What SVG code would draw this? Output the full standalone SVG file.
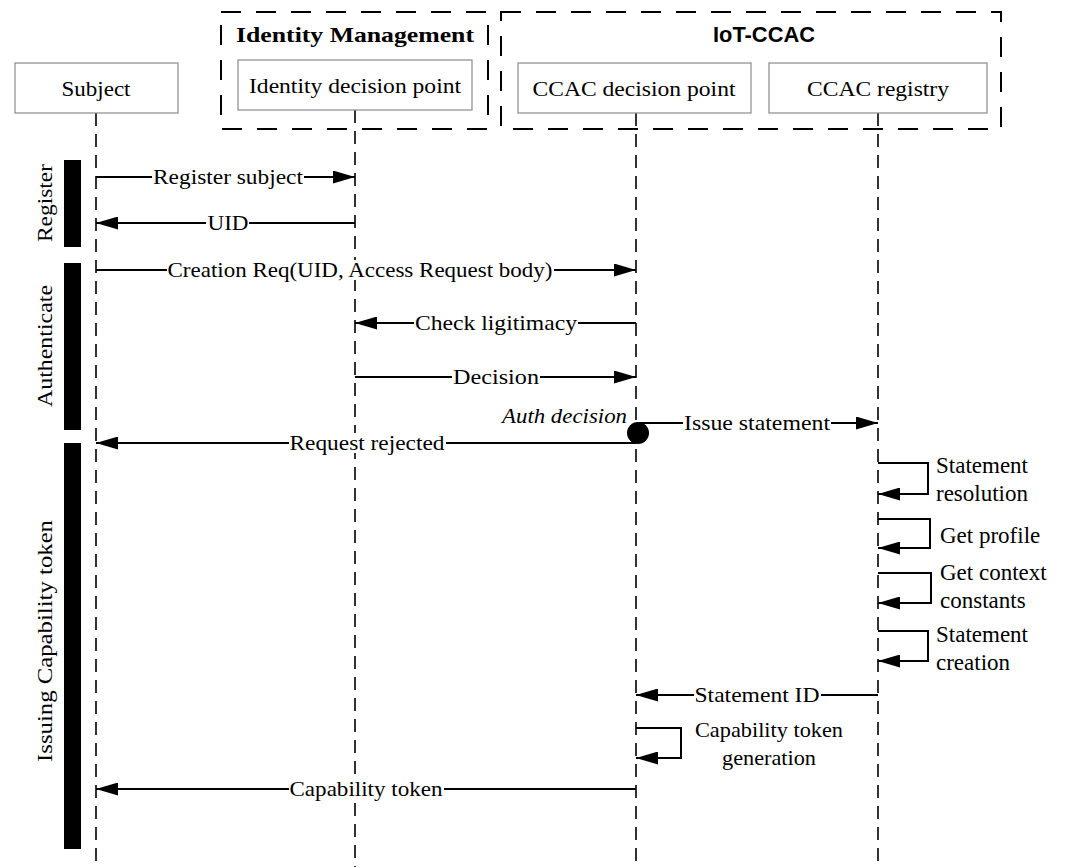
<svg xmlns="http://www.w3.org/2000/svg" width="1069" height="867" viewBox="0 0 1069 867">
<defs>
<style>
text{font-family:'Liberation Serif','Times New Roman',Times,serif;font-size:22px;fill:#000}
.lbl{text-anchor:middle}
.it{font-style:italic}
.nt{font-size:23px}
.box{fill:#fff;stroke:#8a8a8a;stroke-width:1.2}
.grp{fill:none;stroke:#000;stroke-width:2;stroke-dasharray:20 15}
.life{stroke:#000;stroke-width:1.6;stroke-dasharray:13 8;fill:none}
.msg{stroke:#000;stroke-width:2;fill:none;marker-end:url(#ah)}
.bg{fill:#fff}
.bar{fill:#000}
</style>
<marker id="ah" markerUnits="userSpaceOnUse" markerWidth="23" markerHeight="13" refX="22" refY="6.5" orient="auto">
<path d="M0,0 L22,6.5 L0,13 z" fill="#000"/>
</marker>
</defs>
<rect width="1069" height="867" fill="#fff"/>

<g id="group-identity-management">
<rect class="grp" x="221" y="12" width="267" height="117"/>
<text class="lbl" x="355" y="42" font-weight="bold" textLength="238" lengthAdjust="spacingAndGlyphs">Identity Management</text>
</g>
<g id="group-iot-ccac">
<rect class="grp" x="501" y="12" width="500" height="117"/>
<text x="764" y="42" text-anchor="middle" style="font-family:'Liberation Sans',Arial,sans-serif;font-weight:bold" textLength="102" lengthAdjust="spacingAndGlyphs">IoT-CCAC</text>
</g>

<g id="lifelines">
<line class="life" x1="96" y1="113" x2="96" y2="867"/>
<line class="life" x1="355" y1="110" x2="355" y2="867"/>
<line class="life" x1="636" y1="113" x2="636" y2="867"/>
<line class="life" x1="878" y1="113" x2="878" y2="867"/>
</g>

<g id="node-subject">
<rect class="box" x="15" y="63" width="163" height="50"/>
<text class="lbl" x="96" y="96" textLength="69" lengthAdjust="spacingAndGlyphs">Subject</text>
</g>
<g id="node-identity-decision-point">
<rect class="box" x="238" y="60" width="234" height="50"/>
<text class="lbl" x="355" y="93" textLength="212" lengthAdjust="spacingAndGlyphs">Identity decision point</text>
</g>
<g id="node-ccac-decision-point">
<rect class="box" x="518" y="63" width="233" height="50"/>
<text class="lbl" x="634" y="96" textLength="203" lengthAdjust="spacingAndGlyphs">CCAC decision point</text>
</g>
<g id="node-ccac-registry">
<rect class="box" x="769" y="63" width="218" height="50"/>
<text class="lbl" x="878" y="96" textLength="142" lengthAdjust="spacingAndGlyphs">CCAC registry</text>
</g>

<g id="phases">
<rect class="bar" x="64" y="160" width="17" height="87"/>
<rect class="bar" x="64" y="263" width="17" height="167"/>
<rect class="bar" x="64" y="443" width="17" height="406"/>
<text class="lbl" transform="translate(52,203) rotate(-90)" textLength="78" lengthAdjust="spacingAndGlyphs">Register</text>
<text class="lbl" transform="translate(52,346) rotate(-90)" textLength="122" lengthAdjust="spacingAndGlyphs">Authenticate</text>
<text class="lbl" transform="translate(52,641) rotate(-90)" textLength="242" lengthAdjust="spacingAndGlyphs">Issuing Capability token</text>
</g>

<g id="connectors">
<line class="msg" x1="96" y1="177" x2="355" y2="177"/>
<rect class="bg" x="152" y="167" width="152" height="20"/>
<text class="lbl" x="228" y="184" textLength="150" lengthAdjust="spacingAndGlyphs">Register subject</text>

<line class="msg" x1="355" y1="223" x2="96" y2="223"/>
<rect class="bg" x="206" y="213" width="43" height="20"/>
<text class="lbl" x="228" y="230" textLength="41" lengthAdjust="spacingAndGlyphs">UID</text>

<line class="msg" x1="96" y1="270" x2="636" y2="270"/>
<rect class="bg" x="167" y="260" width="387" height="20"/>
<text class="lbl" x="360" y="277" textLength="385" lengthAdjust="spacingAndGlyphs">Creation Req(UID, Access Request body)</text>

<line class="msg" x1="636" y1="323" x2="355" y2="323"/>
<rect class="bg" x="414" y="313" width="164" height="20"/>
<text class="lbl" x="496" y="330" textLength="162" lengthAdjust="spacingAndGlyphs">Check ligitimacy</text>

<line class="msg" x1="355" y1="377" x2="636" y2="377"/>
<rect class="bg" x="452" y="367" width="88" height="20"/>
<text class="lbl" x="496" y="384" textLength="86" lengthAdjust="spacingAndGlyphs">Decision</text>

<text class="it" x="627" y="423" text-anchor="end" textLength="125" lengthAdjust="spacingAndGlyphs">Auth decision</text>

<line class="msg" x1="638" y1="423" x2="878" y2="423"/>
<rect class="bg" x="683" y="413" width="148" height="20"/>
<text class="lbl" x="757" y="430" textLength="146" lengthAdjust="spacingAndGlyphs">Issue statement</text>

<line class="msg" x1="636" y1="443" x2="96" y2="443"/>
<rect class="bg" x="289" y="433" width="157" height="20"/>
<text class="lbl" x="367" y="450" textLength="155" lengthAdjust="spacingAndGlyphs">Request rejected</text>
<circle cx="638" cy="433" r="11" fill="#000"/>

<path class="msg" d="M878,463 H928 V494 H878"/>
<text class="nt" x="936" y="473">Statement</text>
<text class="nt" x="936" y="501">resolution</text>

<path class="msg" d="M878,519 H930 V548 H878"/>
<text class="nt" x="940" y="543">Get profile</text>

<path class="msg" d="M878,573 H931 V603 H878"/>
<text class="nt" x="940" y="580">Get context</text>
<text class="nt" x="940" y="608">constants</text>

<path class="msg" d="M878,631 H928 V661 H878"/>
<text class="nt" x="936" y="642">Statement</text>
<text class="nt" x="936" y="670">creation</text>

<line class="msg" x1="878" y1="695" x2="636" y2="695"/>
<rect class="bg" x="694" y="685" width="127" height="20"/>
<text class="lbl" x="757" y="702" textLength="125" lengthAdjust="spacingAndGlyphs">Statement ID</text>

<path class="msg" d="M636,728 H681 V758 H636"/>
<text class="lbl" x="769" y="737" textLength="148" lengthAdjust="spacingAndGlyphs">Capability token</text>
<text class="lbl" x="769" y="765" textLength="94" lengthAdjust="spacingAndGlyphs">generation</text>

<line class="msg" x1="636" y1="789" x2="96" y2="789"/>
<rect class="bg" x="289" y="779" width="155" height="20"/>
<text class="lbl" x="366" y="796" textLength="153" lengthAdjust="spacingAndGlyphs">Capability token</text>
</g>
</svg>
